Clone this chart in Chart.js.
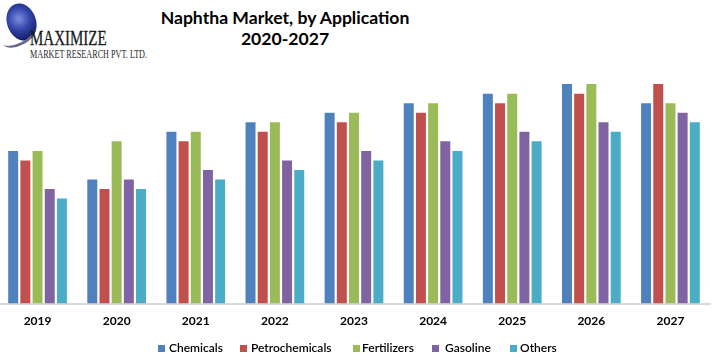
<!DOCTYPE html>
<html>
<head>
<meta charset="utf-8">
<script src="https://cdn.jsdelivr.net/npm/chart.js@4.4.1/dist/chart.umd.min.js"></script>
<style>
  html, body { margin:0; padding:0; background:#fff; }
  body { width:716px; height:361px; position:relative; overflow:hidden; }
  #wrap { position:absolute; left:-2px; top:0; width:714px; height:361px; }
  #title { position:absolute; left:155px; width:260px; top:7px; text-align:center;
    font-family:Lato, "Open Sans", sans-serif; font-weight:700; font-size:17.6px; line-height:21px; color:#000; }
  #logo { position:absolute; left:0; top:0; width:160px; height:65px; }
  .globe { position:absolute; left:7px; top:3px; width:29px; height:38px; border-radius:50%;
    background: radial-gradient(circle at 45% 40%, #7b8de0 0%, #3445a8 40%, #141d66 78%, #0a0f3a 100%);
    transform: rotate(-20deg); }
  .swoosh { position:absolute; left:1px; top:27px; width:34px; height:16px; border-radius:50%;
    border-bottom:3px solid #6a6a8a; transform: rotate(-25deg); }
  .mx { position:absolute; left:30px; top:27px; font-family:"Liberation Serif", serif; font-size:20px; line-height:23px; color:#1a1a1a;
    transform-origin:left top; transform:scaleX(0.75); white-space:nowrap; -webkit-text-stroke:0.3px #1a1a1a; }
  .mr { position:absolute; left:30px; top:47px; font-family:"Liberation Serif", serif; font-size:12px; line-height:14px; color:#2a2a2a;
    transform-origin:left top; transform:scaleX(0.68); white-space:nowrap; }
  .lg { position:absolute; top:341px; height:14px; font-family:Lato, "Open Sans", sans-serif; font-weight:600; font-size:12px; line-height:14px; color:#000; white-space:nowrap; }
  .lg i { position:absolute; top:3.5px; width:7px; height:7px; }
</style>
</head>
<body>
<div id="logo">
  <div class="globe"></div>
  <div class="swoosh"></div>
  <div class="mx">MAXIMIZE</div>
  <div class="mr">MARKET RESEARCH PVT. LTD.</div>
</div>
<div id="title">Naphtha Market, by Application<br>2020-2027</div>
<div id="wrap"><canvas id="c"></canvas></div>
<div id="legend"></div>
<script>
const categories = ["2019","2020","2021","2022","2023","2024","2025","2026","2027"];
const chemicals      = [16,13,18,19,20,21,22,23,21];
const petrochemicals = [15,12,17,18,19,20,21,22,23];
const fertilizers    = [16,17,18,19,20,21,22,23,21];
const gasoline       = [12,13,14,15,16,17,18,19,20];
const others         = [11,12,13,14,15,16,17,18,19];

const seriesNames = ["Chemicals","Petrochemicals","Fertilizers","Gasoline","Others"];
const seriesData = [chemicals, petrochemicals, fertilizers, gasoline, others];
const colors = ["#4F81BD","#C0504D","#9BBB59","#8064A2","#4BACC6"];

// HTML legend (layout positions of the legend items)
const legendSquareX = [158, 240, 353, 432, 510];
const legendTextX   = [169, 251, 362, 445, 520];
const lg = document.getElementById('legend');
seriesNames.forEach((n,i)=>{
  const sq = document.createElement('div');
  sq.className = 'lg';
  sq.style.left = legendSquareX[i] + 'px';
  sq.innerHTML = '<i style="left:0;background:' + colors[i] + '"></i>';
  lg.appendChild(sq);
  const t = document.createElement('div');
  t.className = 'lg';
  t.style.left = legendTextX[i] + 'px';
  t.textContent = n;
  lg.appendChild(t);
});

new Chart(document.getElementById('c'), {
  type: 'bar',
  data: {
    labels: categories,
    datasets: seriesNames.map((n,i)=>({
      label: n, data: seriesData[i], backgroundColor: colors[i], borderWidth: 0,
      categoryPercentage: 0.77, barPercentage: 0.82
    }))
  },
  options: {
    responsive: true, maintainAspectRatio: false, animation: false,
    layout: { padding: { top: 65, right: 2, left: 0, bottom: 31 } },
    plugins: {
      tooltip: { enabled:false },
      title: { display:false },
      legend: { display:false }
    },
    scales: {
      x: {
        grid: { display:false },
        border: { display:true, color:'#d9d9d9', width:2 },
        ticks: { color:'#000', padding: 2, font: { family:'Lato, "Open Sans", sans-serif', size: 12, weight:'700' } }
      },
      y: { display:false, min:0, max:25 }
    }
  }
});
</script>
</body>
</html>
